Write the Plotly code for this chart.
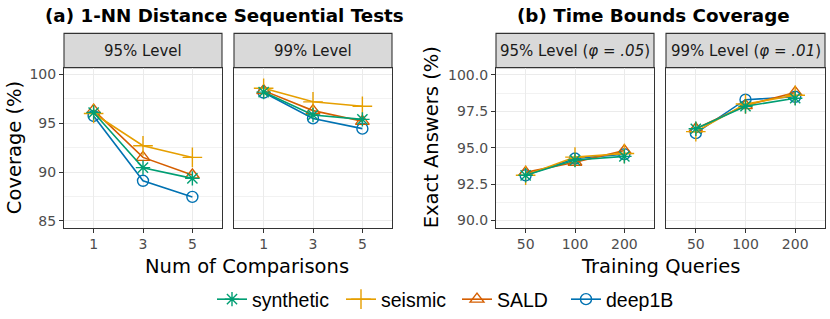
import plotly.graph_objects as go

# ---------------- data ----------------
series = ["synthetic", "seismic", "SALD", "deep1B"]
comparisons = ["1", "3", "5"]
training_queries = ["50", "100", "200"]

# (a) 1-NN distance sequential tests, coverage (%)
nn95_synthetic = [96.1, 90.45, 89.35]
nn95_seismic = [96.0, 92.7, 91.5]
nn95_SALD = [96.35, 91.5, 89.7]
nn95_deep1B = [95.75, 89.1, 87.45]

nn99_synthetic = [98.2, 95.85, 95.4]
nn99_seismic = [98.6, 97.2, 96.75]
nn99_SALD = [98.35, 96.3, 95.2]
nn99_deep1B = [98.15, 95.5, 94.45]

# (b) time bounds coverage, exact answers (%)
tb95_synthetic = [93.1, 94.15, 94.4]
tb95_seismic = [93.1, 94.35, 94.6]
tb95_SALD = [93.3, 94.0, 94.8]
tb95_deep1B = [93.1, 94.25, 94.55]

tb99_synthetic = [96.3, 97.85, 98.4]
tb99_seismic = [96.1, 98.0, 98.6]
tb99_SALD = [96.3, 97.9, 98.8]
tb99_deep1B = [96.0, 98.3, 98.5]

panel_labels = ["95% Level", "99% Level",
                "95% Level (<i>φ</i> = <i>.05</i>)", "99% Level (<i>φ</i> = <i>.01</i>)"]

# ---------------- styling ----------------
colors = {"synthetic": "#009E73", "seismic": "#E69F00", "SALD": "#D55E00", "deep1B": "#0072B2"}
symbols = {"synthetic": "asterisk-open", "seismic": "cross-thin-open",
           "SALD": "triangle-up-open", "deep1B": "circle-open"}
msizes = {"synthetic": 12, "seismic": 14, "SALD": 12, "deep1B": 11}
legend_ids = {"synthetic": "legend", "seismic": "legend2", "SALD": "legend3", "deep1B": "legend4"}

W, H = 830, 319
def px(x):
    return x / W
def py(y):
    return 1 - y / H

panel_x = [(64, 222), (234, 392), (496, 654), (666, 825)]
plot_top, plot_bot = 69, 232
strip_top = 34

FONT = "DejaVu Sans"
BORDER = "#333333"
GRID = "#EBEBEB"
TICKCOL = "#4D4D4D"

data = {
    (0, "synthetic"): nn95_synthetic, (0, "seismic"): nn95_seismic,
    (0, "SALD"): nn95_SALD, (0, "deep1B"): nn95_deep1B,
    (1, "synthetic"): nn99_synthetic, (1, "seismic"): nn99_seismic,
    (1, "SALD"): nn99_SALD, (1, "deep1B"): nn99_deep1B,
    (2, "synthetic"): tb95_synthetic, (2, "seismic"): tb95_seismic,
    (2, "SALD"): tb95_SALD, (2, "deep1B"): tb95_deep1B,
    (3, "synthetic"): tb99_synthetic, (3, "seismic"): tb99_seismic,
    (3, "SALD"): tb99_SALD, (3, "deep1B"): tb99_deep1B,
}

fig = go.Figure()
draw_order = ["deep1B", "SALD", "seismic", "synthetic"]
for p in range(4):
    xs = comparisons if p < 2 else training_queries
    ax = "" if p == 0 else str(p + 1)
    for s in draw_order:
        fig.add_trace(go.Scatter(
            x=xs, y=data[(p, s)], mode="lines+markers", name=s,
            xaxis="x" + ax, yaxis="y" + ax,
            line=dict(color=colors[s], width=1.6),
            marker=dict(symbol=symbols[s], size=msizes[s], color=colors[s],
                        line=dict(color=colors[s], width=1.4)),
            showlegend=(p == 0), legend=legend_ids[s], cliponaxis=False,
        ))

layout = dict(
    width=W, height=H, margin=dict(l=0, r=0, t=0, b=0),
    paper_bgcolor="white", plot_bgcolor="white",
    font=dict(family=FONT, size=14, color=TICKCOL),
)

yranges = [[84.3, 100.7], [84.3, 100.7], [89.5, 100.5], [89.5, 100.5]]
for p in range(4):
    ax = "" if p == 0 else str(p + 1)
    x0, x1 = panel_x[p]
    cats = comparisons if p < 2 else training_queries
    layout["xaxis" + ax] = dict(
        domain=[px(x0), px(x1)], anchor="y" + ax, type="category",
        categoryorder="array", categoryarray=cats, range=[-0.6, 2.6],
        showgrid=True, gridcolor=GRID, gridwidth=1.1,
        showline=True, mirror=True, linecolor=BORDER, linewidth=1.1,
        ticks="outside", ticklen=4, tickwidth=1.1, tickcolor=BORDER,
        tickfont=dict(family=FONT, size=14, color=TICKCOL), zeroline=False,
    )
    left = p in (0, 2)
    layout["yaxis" + ax] = dict(
        domain=[py(plot_bot), py(plot_top)], anchor="x" + ax,
        range=yranges[p], dtick=5 if p < 2 else 2.5,
        tickformat="d" if p < 2 else ".1f",
        showgrid=True, gridcolor=GRID, gridwidth=1.1,
        minor=dict(dtick=2.5 if p < 2 else 1.25, showgrid=True, gridcolor="#F2F2F2", gridwidth=0.6),
        showline=True, mirror=True, linecolor=BORDER, linewidth=1.1,
        ticks="outside" if left else "", ticklen=4, tickwidth=1.1, tickcolor=BORDER,
        showticklabels=left, tickfont=dict(family=FONT, size=14, color=TICKCOL),
        zeroline=False,
    )
    if not left:
        layout["yaxis" + ax]["matches"] = "y" if p == 1 else "y3"

# legends
legend_x = {"synthetic": 223, "seismic": 352, "SALD": 468, "deep1B": 577}
for s in series:
    layout[legend_ids[s]] = dict(
        x=px(legend_x[s] - 11), y=py(305.5), xanchor="left", yanchor="middle",
        orientation="h", bgcolor="rgba(0,0,0,0)", borderwidth=0,
        font=dict(family="Liberation Sans", size=19.5, color="black"),
        itemwidth=30,
    )

fig.update_layout(**layout)

# strips
for p in range(4):
    x0, x1 = panel_x[p]
    fig.add_shape(type="rect", xref="paper", yref="paper",
                  x0=px(x0), x1=px(x1), y0=py(plot_top), y1=py(strip_top),
                  fillcolor="#D9D9D9", line=dict(color=BORDER, width=1.1), layer="below")
    fig.add_annotation(xref="paper", yref="paper", x=px((x0 + x1) / 2), y=py((strip_top + plot_top) / 2),
                       text=panel_labels[p], showarrow=False, xanchor="center", yanchor="middle",
                       font=dict(family=FONT, size=15, color="#1A1A1A"))

# titles
fig.add_annotation(xref="paper", yref="paper", x=px(224), y=py(16),
                   text="<b>(a) 1-NN Distance Sequential Tests</b>", showarrow=False,
                   xanchor="center", yanchor="middle", font=dict(family=FONT, size=18.3, color="black"))
fig.add_annotation(xref="paper", yref="paper", x=px(653.5), y=py(16),
                   text="<b>(b) Time Bounds Coverage</b>", showarrow=False,
                   xanchor="center", yanchor="middle", font=dict(family=FONT, size=18.3, color="black"))

# axis titles
fig.add_annotation(xref="paper", yref="paper", x=px(247), y=py(271.5),
                   text="Num of Comparisons", showarrow=False, xanchor="center", yanchor="middle",
                   font=dict(family=FONT, size=19.5, color="black"))
fig.add_annotation(xref="paper", yref="paper", x=px(660.5), y=py(271.5),
                   text="Training Queries", showarrow=False, xanchor="center", yanchor="middle",
                   font=dict(family=FONT, size=19.5, color="black"))
fig.add_annotation(xref="paper", yref="paper", x=px(14), y=py(151),
                   text="Coverage (%)", showarrow=False, textangle=-90, xanchor="center", yanchor="middle",
                   font=dict(family=FONT, size=19.5, color="black"))
fig.add_annotation(xref="paper", yref="paper", x=px(431), y=py(140),
                   text="Exact Answers (%)", showarrow=False, textangle=-90, xanchor="center", yanchor="middle",
                   font=dict(family=FONT, size=19.5, color="black"))

fig.write_html("out.html", config={"displayModeBar": False},
               post_script="document.body.style.margin='0';document.body.style.overflow='hidden';")
